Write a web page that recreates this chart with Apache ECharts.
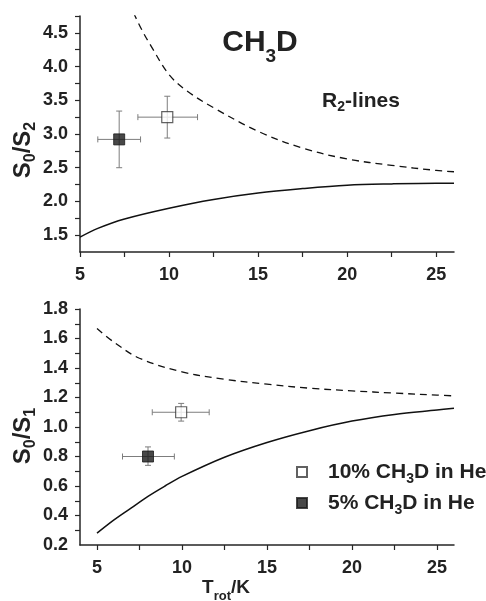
<!DOCTYPE html>
<html><head><meta charset="utf-8">
<script src="https://cdn.jsdelivr.net/npm/echarts@6/dist/echarts.min.js"></script>
<style>html,body{margin:0;padding:0;background:#fff}#c{width:486px;height:601px}</style>
</head><body><div id="c"></div>
<script>
const FONT = '"Liberation Sans", Arial, Helvetica, sans-serif';

// ---- Top panel: S0/S2 (R2-lines) ----
const topUpperX = [8.0, 8.5, 9, 10, 11, 12.5, 15, 17.5, 20, 22.5, 25, 26];
const topUpperY = [4.80, 4.53, 4.30, 3.88, 3.64, 3.39, 3.04, 2.79, 2.63, 2.535, 2.46, 2.44];
const topLowerX = [5, 6, 7.5, 10, 12.5, 15, 17.5, 20, 22.5, 25, 26];
const topLowerY = [1.47, 1.60, 1.74, 1.90, 2.03, 2.125, 2.19, 2.24, 2.26, 2.27, 2.27];
// point: x, y, xLow, xHigh, yLow, yHigh
const top10 = [9.9, 3.25, 8.25, 11.6, 2.94, 3.56];
const top5 = [7.2, 2.92, 6.0, 8.4, 2.50, 3.34];
const topXLabels = [5, 10, 15, 20, 25];
const topXTicks = [5, 7.5, 10, 12.5, 15, 17.5, 20, 22.5, 25];
const topYLabels = [1.5, 2.0, 2.5, 3.0, 3.5, 4.0, 4.5];
const topYTicks = [1.5, 1.75, 2.0, 2.25, 2.5, 2.75, 3.0, 3.25, 3.5, 3.75, 4.0, 4.25, 4.5, 4.75];

// ---- Bottom panel: S0/S1 ----
const botUpperX = [5, 6, 7.5, 10, 12.5, 15, 17.5, 20, 22.5, 25, 26];
const botUpperY = [1.668, 1.575, 1.466, 1.374, 1.324, 1.29, 1.263, 1.245, 1.23, 1.216, 1.211];
const botLowerX = [5, 6, 7, 8, 9, 10, 12.5, 15, 17.5, 20, 22.5, 25, 26];
const botLowerY = [0.28, 0.37, 0.45, 0.53, 0.60, 0.665, 0.795, 0.895, 0.975, 1.04, 1.085, 1.115, 1.127];
const bot10 = [9.95, 1.10, 8.25, 11.6, 1.04, 1.16];
const bot5 = [8.0, 0.80, 6.5, 9.55, 0.74, 0.865];
const botXLabels = [5, 10, 15, 20, 25];
const botXTicks = [5, 7.5, 10, 12.5, 15, 17.5, 20, 22.5, 25];
const botYLabels = [0.2, 0.4, 0.6, 0.8, 1.0, 1.2, 1.4, 1.6, 1.8];
const botYTicks = [0.3, 0.4, 0.5, 0.6, 0.7, 0.8, 0.9, 1.0, 1.1, 1.2, 1.3, 1.4, 1.5, 1.6, 1.7, 1.8];

const seriesNames = ['10% CH3D in He', '5% CH3D in He'];

const zip = (xs, ys) => xs.map((x, i) => [x, ys[i]]);

const axisColor = '#262626';
const labelStyle = { fontFamily: FONT, fontWeight: 'bold', fontSize: 18, color: '#222' };

function xAxis(idx, min, max, ticks, labels) {
  return {
    type: 'value', gridIndex: idx, min: min, max: max,
    axisLine: { show: true, onZero: false, lineStyle: { color: axisColor, width: 1.5 } },
    axisTick: { show: true, inside: false, length: 5, customValues: ticks, lineStyle: { color: axisColor, width: 1.2 } },
    axisLabel: Object.assign({ margin: 14, customValues: labels, formatter: v => String(v) }, labelStyle),
    splitLine: { show: false }
  };
}
function yAxis(idx, min, max, ticks, labels) {
  return {
    type: 'value', gridIndex: idx, min: min, max: max,
    axisLine: { show: true, onZero: false, lineStyle: { color: axisColor, width: 1.5 } },
    axisTick: { show: true, inside: false, length: 5, customValues: ticks, lineStyle: { color: axisColor, width: 1.2 } },
    axisLabel: Object.assign({ margin: 12, customValues: labels, formatter: v => v.toFixed(1) }, labelStyle),
    splitLine: { show: false }
  };
}

function errorBarItem(params, api) {
  const x = api.value(0), y = api.value(1);
  const xl = api.value(2), xh = api.value(3), yl = api.value(4), yh = api.value(5);
  const pL = api.coord([xl, y]), pR = api.coord([xh, y]);
  const pB = api.coord([x, yl]), pT = api.coord([x, yh]);
  const c = 3;
  const st = { stroke: '#7d7d7d', lineWidth: 1, fill: null };
  const ln = (x1, y1, x2, y2) => ({ type: 'line', shape: { x1, y1, x2, y2 }, style: st });
  return { type: 'group', children: [
    ln(pL[0], pL[1], pR[0], pR[1]),
    ln(pL[0], pL[1] - c, pL[0], pL[1] + c),
    ln(pR[0], pR[1] - c, pR[0], pR[1] + c),
    ln(pB[0], pB[1], pT[0], pT[1]),
    ln(pB[0] - c, pB[1], pB[0] + c, pB[1]),
    ln(pT[0] - c, pT[1], pT[0] + c, pT[1])
  ]};
}

const openStyle = { color: '#ffffff', borderColor: '#3a3a3a', borderWidth: 1.2 };
const filledStyle = { color: '#1a1a1a', borderColor: '#1a1a1a', borderWidth: 1 };

function panelSeries(idx, upX, upY, loX, loY, p10, p5) {
  return [
    { type: 'line', xAxisIndex: idx, yAxisIndex: idx, data: zip(upX, upY), smooth: 0.35,
      showSymbol: false, silent: true, clip: true, lineStyle: { color: '#111', width: 1.3, type: [7, 5] }, z: 2 },
    { type: 'line', xAxisIndex: idx, yAxisIndex: idx, data: zip(loX, loY), smooth: 0.35,
      showSymbol: false, silent: true, clip: true, lineStyle: { color: '#111', width: 1.5 }, z: 2 },
    { type: 'custom', xAxisIndex: idx, yAxisIndex: idx, renderItem: errorBarItem,
      encode: { x: 0, y: 1 }, data: [p10, p5], z: 3, silent: true },
    { type: 'scatter', name: seriesNames[0], xAxisIndex: idx, yAxisIndex: idx, symbol: 'rect', symbolSize: 11,
      data: [[p10[0], p10[1]]], itemStyle: openStyle, z: 5 },
    { type: 'scatter', name: seriesNames[1], xAxisIndex: idx, yAxisIndex: idx, symbol: 'rect', symbolSize: 11,
      data: [[p5[0], p5[1]]], itemStyle: filledStyle, z: 5 }
  ];
}

const bold = (size) => ({ fontFamily: FONT, fontWeight: 'bold', fontSize: size, fill: '#222', lineHeight: size });

const chart = echarts.init(document.getElementById('c'), null, { renderer: 'canvas' });
chart.setOption({
  animation: false,
  backgroundColor: '#ffffff',
  grid: [
    { left: 80, top: 16, width: 374, height: 236 },
    { left: 80, top: 309, width: 374, height: 236 }
  ],
  xAxis: [ xAxis(0, 5, 26, topXTicks, topXLabels), xAxis(1, 4, 26, botXTicks, botXLabels) ],
  yAxis: [ yAxis(0, 1.25, 4.75, topYTicks, topYLabels), yAxis(1, 0.2, 1.8, botYTicks, botYLabels) ],
  legend: {
    orient: 'vertical', left: 296, top: 458, itemWidth: 10, itemHeight: 10, itemGap: 3, padding: 0,
    data: [{ name: seriesNames[0], icon: 'rect' }, { name: seriesNames[1], icon: 'rect' }],
    selectedMode: false,
    formatter: n => n.replace('CH3D', '{a|CH}{s|3}{a|D}').replace(/^(\d+%) /, '{a|$1 }').replace(' in He', '{a| in He}'),
    textStyle: {
      fontFamily: FONT, fontWeight: 'bold', fontSize: 21, color: '#222', padding: [0, 0, 0, 16],
      rich: {
        a: { fontFamily: FONT, fontWeight: 'bold', fontSize: 21, color: '#222', lineHeight: 21 },
        s: { fontFamily: FONT, fontWeight: 'bold', fontSize: 14, color: '#222', lineHeight: 14, padding: [14, 0, 0, 0] }
      }
    }
  },
  graphic: [
    { type: 'text', x: 260, y: 43, silent: true,
      style: { text: '{a|CH}{s|3}{a|D}', align: 'center', verticalAlign: 'middle',
        rich: { a: bold(30), s: Object.assign(bold(19), { padding: [27, 0, 0, 0] }) } } },
    { type: 'text', x: 361, y: 101, silent: true,
      style: { text: '{a|R}{s|2}{a|-lines}', align: 'center', verticalAlign: 'middle',
        rich: { a: bold(21), s: Object.assign(bold(14), { padding: [13, 0, 0, 0] }) } } },
    { type: 'text', x: 23, y: 150, rotation: Math.PI / 2, silent: true,
      style: { text: '{a|S}{s|0}{a|/S}{s|2}', align: 'center', verticalAlign: 'middle',
        rich: { a: bold(24), s: Object.assign(bold(16), { padding: [16, 0, 0, 0] }) } } },
    { type: 'text', x: 23, y: 436, rotation: Math.PI / 2, silent: true,
      style: { text: '{a|S}{s|0}{a|/S}{s|1}', align: 'center', verticalAlign: 'middle',
        rich: { a: bold(24), s: Object.assign(bold(16), { padding: [16, 0, 0, 0] }) } } },
    { type: 'text', x: 226, y: 588, silent: true,
      style: { text: '{a|T}{s|rot}{a|/K}', align: 'center', verticalAlign: 'middle',
        rich: { a: bold(19), s: Object.assign(bold(13), { padding: [16, 0, 0, 0] }) } } }
  ],
  series: [].concat(
    panelSeries(0, topUpperX, topUpperY, topLowerX, topLowerY, top10, top5),
    panelSeries(1, botUpperX, botUpperY, botLowerX, botLowerY, bot10, bot5)
  )
});
</script></body></html>
